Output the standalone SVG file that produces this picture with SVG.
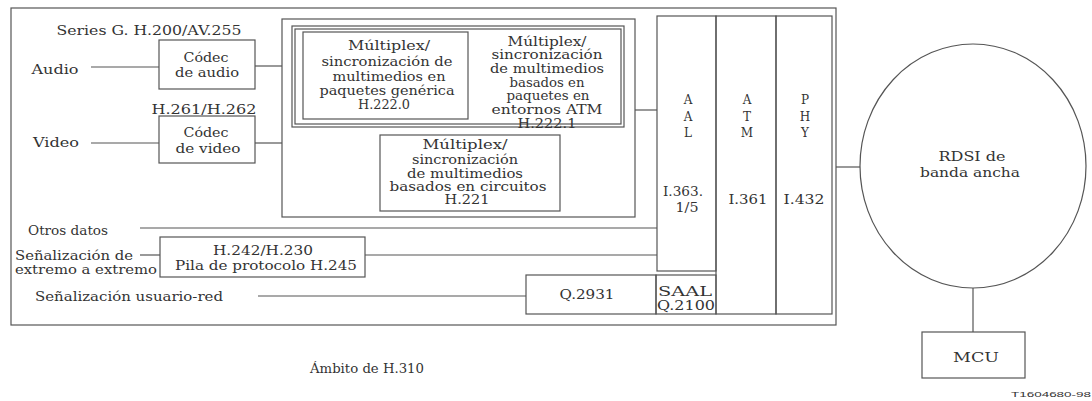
<svg xmlns="http://www.w3.org/2000/svg" width="1092" height="401" viewBox="0 0 1092 401">
<style>
.b{fill:none;stroke:#555;stroke-width:1.2}
.l{stroke:#555;stroke-width:1.2;fill:none}
text{font-family:'DejaVu Serif','Liberation Serif',serif;font-size:12px;fill:#333}
.m{text-anchor:middle}
.s{font-family:'Liberation Sans',Arial,sans-serif;font-size:8px}
</style>
<rect width="1092" height="401" fill="#fff"/>
<g id="scope">
<rect class="b" x="11" y="8" width="825" height="317"/>
<text x="367" y="373" class="m" textLength="114" lengthAdjust="spacingAndGlyphs">Ámbito de H.310</text>
</g>
<g id="labels">
<text x="149" y="35" class="m" textLength="185" lengthAdjust="spacingAndGlyphs">Series G. H.200/AV.255</text>
<text x="55" y="74" class="m" textLength="47" lengthAdjust="spacingAndGlyphs">Audio</text>
<text x="204" y="114" class="m" textLength="105" lengthAdjust="spacingAndGlyphs">H.261/H.262</text>
<text x="56" y="147" class="m" textLength="46" lengthAdjust="spacingAndGlyphs">Video</text>
<text x="68" y="235" class="m" textLength="80" lengthAdjust="spacingAndGlyphs">Otros datos</text>
<text x="74" y="260" class="m" textLength="118" lengthAdjust="spacingAndGlyphs">Señalización de</text>
<text x="86" y="274" class="m" textLength="142" lengthAdjust="spacingAndGlyphs">extremo a extremo</text>
<text x="129" y="301" class="m" textLength="188" lengthAdjust="spacingAndGlyphs">Señalización usuario-red</text>
</g>
<g id="codec-audio">
<rect class="b" x="159" y="40" width="96" height="49"/>
<text x="206" y="62" class="m" textLength="45" lengthAdjust="spacingAndGlyphs">Códec</text>
<text x="207" y="77" class="m" textLength="64" lengthAdjust="spacingAndGlyphs">de audio</text>
</g>
<g id="codec-video">
<rect class="b" x="159" y="116" width="96" height="47"/>
<text x="206" y="137" class="m" textLength="45" lengthAdjust="spacingAndGlyphs">Códec</text>
<text x="208" y="153" class="m" textLength="65" lengthAdjust="spacingAndGlyphs">de video</text>
</g>
<g id="mux-container">
<rect class="b" x="282" y="19" width="353" height="198"/>
</g>
<g id="h2221">
<rect class="b" x="292" y="26" width="332" height="101"/>
<rect class="b" x="295" y="29" width="326" height="95" stroke-width="0.8"/>
<text x="547" y="46" class="m" textLength="79" lengthAdjust="spacingAndGlyphs">Múltiplex/</text>
<text x="547" y="59" class="m" textLength="111" lengthAdjust="spacingAndGlyphs">sincronización</text>
<text x="547" y="73" class="m" textLength="114" lengthAdjust="spacingAndGlyphs">de multimedios</text>
<text x="547" y="87" class="m" textLength="75" lengthAdjust="spacingAndGlyphs">basados en</text>
<text x="548" y="100" class="m" textLength="83" lengthAdjust="spacingAndGlyphs">paquetes en</text>
<text x="547" y="114" class="m" textLength="111" lengthAdjust="spacingAndGlyphs">entornos ATM</text>
<text x="547" y="128" class="m" textLength="59" lengthAdjust="spacingAndGlyphs">H.222.1</text>
</g>
<g id="h2220">
<rect class="b" x="303" y="32" width="165" height="87"/>
<text x="389" y="50" class="m" textLength="82" lengthAdjust="spacingAndGlyphs">Múltiplex/</text>
<text x="387" y="66" class="m" textLength="131" lengthAdjust="spacingAndGlyphs">sincronización de</text>
<text x="389" y="81" class="m" textLength="113" lengthAdjust="spacingAndGlyphs">multimedios en</text>
<text x="387" y="95" class="m" textLength="135" lengthAdjust="spacingAndGlyphs">paquetes genérica</text>
<text x="384" y="109" class="m" textLength="52" lengthAdjust="spacingAndGlyphs">H.222.0</text>
</g>
<g id="h221">
<rect class="b" x="380" y="135" width="180" height="76"/>
<text x="465" y="149" class="m" textLength="85" lengthAdjust="spacingAndGlyphs">Múltiplex/</text>
<text x="465" y="164" class="m" textLength="106" lengthAdjust="spacingAndGlyphs">sincronización</text>
<text x="465" y="178" class="m" textLength="116" lengthAdjust="spacingAndGlyphs">de multimedios</text>
<text x="468" y="191" class="m" textLength="157" lengthAdjust="spacingAndGlyphs">basados en circuitos</text>
<text x="467" y="204" class="m" textLength="45" lengthAdjust="spacingAndGlyphs">H.221</text>
</g>
<g id="h242">
<rect class="b" x="160" y="237" width="205" height="40"/>
<text x="263" y="255" class="m" textLength="100" lengthAdjust="spacingAndGlyphs">H.242/H.230</text>
<text x="266" y="270" class="m" textLength="182" lengthAdjust="spacingAndGlyphs">Pila de protocolo H.245</text>
</g>
<g id="q2931">
<rect class="b" x="526" y="275" width="130" height="39"/>
<text x="587" y="299" class="m" textLength="55" lengthAdjust="spacingAndGlyphs">Q.2931</text>
</g>
<g id="saal">
<rect class="b" x="656" y="275" width="60" height="39"/>
<text x="685" y="296" class="m" textLength="54" lengthAdjust="spacingAndGlyphs">SAAL</text>
<text x="686" y="310" class="m" textLength="58" lengthAdjust="spacingAndGlyphs">Q.2100</text>
</g>
<g id="aal">
<rect class="b" x="657" y="16" width="59" height="255"/>
<text x="688" y="104" class="m">A</text>
<text x="688" y="121" class="m">A</text>
<text x="688" y="137" class="m">L</text>
<text x="683" y="196" class="m" textLength="40" lengthAdjust="spacingAndGlyphs">I.363.</text>
<text x="687" y="212" class="m" textLength="23" lengthAdjust="spacingAndGlyphs">1/5</text>
</g>
<g id="atm">
<rect class="b" x="716" y="16" width="60" height="298"/>
<text x="747" y="104" class="m">A</text>
<text x="747" y="121" class="m">T</text>
<text x="747" y="137" class="m">M</text>
<text x="748" y="204" class="m" textLength="39" lengthAdjust="spacingAndGlyphs">I.361</text>
</g>
<g id="phy">
<rect class="b" x="776" y="16" width="56" height="298"/>
<text x="805" y="104" class="m">P</text>
<text x="805" y="121" class="m">H</text>
<text x="805" y="137" class="m">Y</text>
<text x="804" y="204" class="m" textLength="41" lengthAdjust="spacingAndGlyphs">I.432</text>
</g>
<g id="rdsi">
<ellipse class="b" cx="973" cy="166" rx="113" ry="122"/>
<text x="972" y="161" class="m" textLength="67" lengthAdjust="spacingAndGlyphs">RDSI de</text>
<text x="970" y="177" class="m" textLength="100" lengthAdjust="spacingAndGlyphs">banda ancha</text>
</g>
<g id="mcu">
<rect class="b" x="922" y="332" width="103" height="46"/>
<text x="976" y="362" class="m" textLength="46" lengthAdjust="spacingAndGlyphs">MCU</text>
</g>
<g id="connectors">
<line class="l" x1="91" y1="67" x2="159" y2="67"/>
<line class="l" x1="255" y1="66" x2="282" y2="66"/>
<line class="l" x1="91" y1="143" x2="159" y2="143"/>
<line class="l" x1="255" y1="143" x2="282" y2="143"/>
<line class="l" x1="635" y1="110" x2="657" y2="110"/>
<line class="l" x1="140" y1="228" x2="657" y2="228"/>
<line class="l" x1="140" y1="255" x2="160" y2="255"/>
<line class="l" x1="365" y1="255" x2="657" y2="255"/>
<line class="l" x1="258" y1="296" x2="526" y2="296"/>
<line class="l" x1="836" y1="167" x2="860" y2="167"/>
<line class="l" x1="973" y1="288" x2="973" y2="332"/>
</g>
<text x="1051" y="397" class="m s" textLength="80" lengthAdjust="spacingAndGlyphs">T1604680-98</text>
</svg>
